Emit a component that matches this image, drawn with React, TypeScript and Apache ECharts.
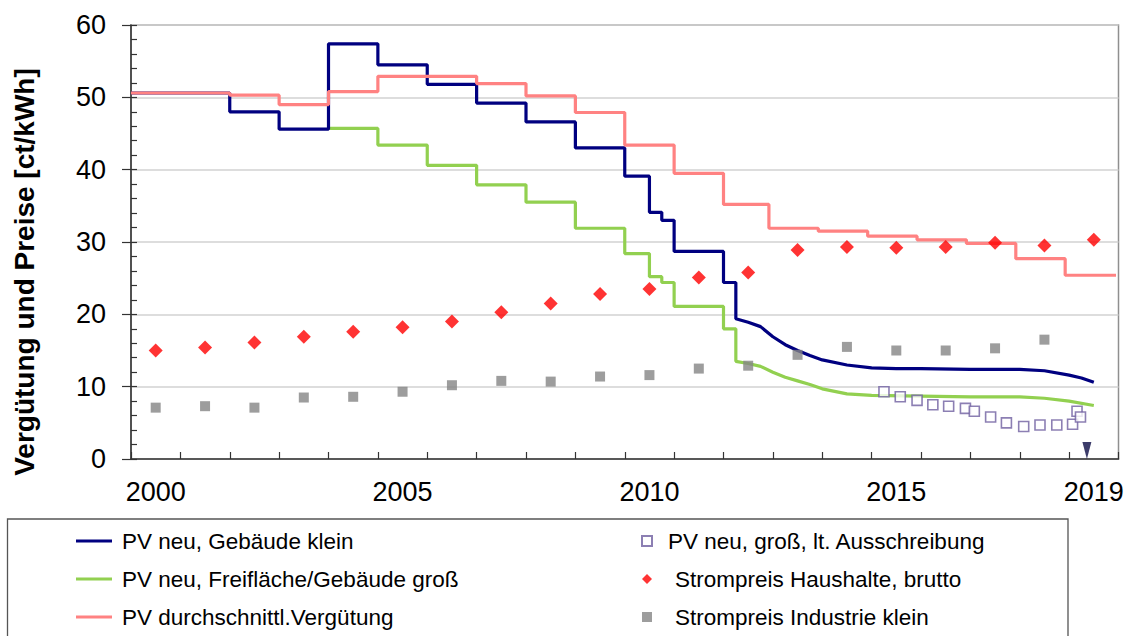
import React, { useEffect, useRef } from 'react';
import * as echarts from 'echarts';

const categoryYears = ['2000','2001','2002','2003','2004','2005','2006','2007','2008','2009','2010','2011','2012','2013','2014','2015','2016','2017','2018','2019'];
const labeledYears = ['2000', '2005', '2010', '2015', '2019'];

// step functions: [start year, value]
const blueSteps = [[2000, 50.6],[2002, 48.0],[2003, 45.6],[2004, 57.4],[2005, 54.5],[2006, 51.8],[2007, 49.2],[2008, 46.6],[2009, 43.0],[2010, 39.1],[2010.5, 34.1],[2010.75, 33.0],[2011, 28.7],[2012, 24.4],[2012.25, 19.4]];
const blueTail = [[2012.5, 18.9],[2012.75, 18.3],[2013.0, 16.9],[2013.25, 15.8],[2013.5, 15.0],[2013.75, 14.3],[2014.0, 13.7],[2014.5, 13.0],[2015.0, 12.6],[2015.5, 12.5],[2016.0, 12.5],[2017.0, 12.4],[2018.0, 12.4],[2018.5, 12.2],[2019.0, 11.6],[2019.25, 11.2],[2019.5, 10.6]];

const greenSteps = [[2004, 45.7],[2005, 43.4],[2006, 40.6],[2007, 37.9],[2008, 35.5],[2009, 31.9],[2010, 28.4],[2010.5, 25.2],[2010.75, 24.4],[2011, 21.1],[2012, 18.0],[2012.25, 13.5]];
const greenTail = [[2012.5, 13.2],[2012.75, 12.8],[2013.0, 12.0],[2013.25, 11.3],[2013.5, 10.8],[2013.75, 10.3],[2014.0, 9.7],[2014.5, 9.0],[2015.0, 8.8],[2016.0, 8.7],[2017.0, 8.6],[2018.0, 8.6],[2018.5, 8.4],[2019.0, 8.0],[2019.5, 7.4]];

const pinkSteps = [[2000, 50.6],[2002, 50.3],[2003, 49.0],[2004, 50.8],[2005, 52.9],[2007, 51.9],[2008, 50.2],[2009, 47.9],[2010, 43.4],[2011, 39.5],[2012, 35.2],[2012.92, 31.9],[2013.92, 31.5],[2014.92, 30.8],[2015.92, 30.3],[2016.92, 29.8],[2017.92, 27.7],[2018.92, 25.4]];
const pinkEnd = 2019.95;

const householdPrice = [15.0, 15.4, 16.1, 16.9, 17.6, 18.2, 19.0, 20.3, 21.5, 22.8, 23.5, 25.1, 25.8, 28.9, 29.3, 29.2, 29.3, 29.9, 29.5, 30.3];
const industryPrice = [7.1, 7.3, 7.1, 8.5, 8.6, 9.3, 10.2, 10.8, 10.7, 11.4, 11.6, 12.5, 12.9, 14.4, 15.5, 15.0, 15.0, 15.3, 16.5, null];

const tenderDates = [2015.25, 2015.58, 2015.92, 2016.24, 2016.56, 2016.9, 2017.08, 2017.41, 2017.73, 2018.08, 2018.41, 2018.75, 2019.07, 2019.16, 2019.23];
const tenderValues = [9.3, 8.6, 8.1, 7.5, 7.3, 7.0, 6.6, 5.8, 5.0, 4.5, 4.7, 4.7, 4.8, 6.6, 5.8];

const markerPoint = [[2019.36, 1.17]];

const NAMES = {
  blue: 'PV neu, Gebäude klein',
  green: 'PV neu, Freifläche/Gebäude groß',
  pink: 'PV durchschnittl.Vergütung',
  tender: 'PV neu, groß, lt. Ausschreibung',
  house: 'Strompreis Haushalte, brutto',
  ind: 'Strompreis Industrie klein',
};

function buildSteps(steps: number[][], tail: number[][] | null, end?: number) {
  const pts: number[][] = [];
  for (let i = 0; i < steps.length; i++) {
    pts.push([steps[i][0], steps[i][1]]);
    if (i + 1 < steps.length) pts.push([steps[i + 1][0], steps[i][1]]);
  }
  if (tail) tail.forEach((p) => pts.push([p[0], p[1]]));
  if (end !== undefined) pts.push([end, steps[steps.length - 1][1]]);
  return pts;
}

const FONT = 'Liberation Sans, Arial, sans-serif';

export default function App() {
  const ref = useRef<HTMLDivElement>(null);
  useEffect(() => {
    const chart = echarts.init(ref.current!, null, { renderer: 'svg' });
    const centerOf = (i: number) => Number(categoryYears[i]) + 0.5;
    const option: any = {
      animation: false,
      backgroundColor: '#ffffff',
      textStyle: { fontFamily: FONT },
      grid: {
        left: 131, right: 12.5, top: 25, bottom: 177,
        show: true, borderColor: '#8f8f8f', borderWidth: 1.5,
      },
      xAxis: [
        {
          type: 'value', min: 2000, max: 2020, interval: 1, position: 'bottom',
          axisLine: { show: true, lineStyle: { color: '#333', width: 1.5 } },
          axisTick: { show: true, inside: true, length: 7, lineStyle: { color: '#333', width: 1.2 } },
          axisLabel: { show: false },
          splitLine: { show: false },
        },
        {
          type: 'category', data: categoryYears, boundaryGap: true, position: 'bottom',
          axisLine: { show: false }, axisTick: { show: false }, splitLine: { show: false },
          axisLabel: {
            interval: (_i: number, v: string) => labeledYears.includes(v),
            fontSize: 27, color: '#000', margin: 19, fontFamily: FONT,
          },
        },
      ],
      yAxis: [
        {
          type: 'value', min: 0, max: 60, interval: 10, position: 'left',
          axisLine: { show: true, lineStyle: { color: '#333', width: 1.5 } },
          axisTick: { show: true, inside: false, length: 9, lineStyle: { color: '#333', width: 1.2 } },
          axisLabel: { fontSize: 27, color: '#000', margin: 25, fontFamily: FONT },
          splitLine: { show: true, lineStyle: { color: '#d2d2d2', width: 1.5 } },
        },
        {
          type: 'value', min: 0, max: 60, interval: 2, position: 'left',
          axisLine: { show: false },
          axisTick: { show: true, inside: true, length: 6, lineStyle: { color: '#333', width: 1.2 } },
          axisLabel: { show: false },
          splitLine: { show: false },
        },
      ],
      legend: [
        {
          data: [NAMES.blue, NAMES.green, NAMES.pink],
          orient: 'vertical', left: 76, top: 529, height: 106, padding: 0,
          icon: 'rect', itemWidth: 36, itemHeight: 3, itemGap: 14,
          selectedMode: false,
          textStyle: { fontSize: 22.5, color: '#000', lineHeight: 24, fontFamily: FONT, padding: [0, 0, 0, 5] },
        },
        {
          data: [NAMES.tender, NAMES.house, NAMES.ind],
          orient: 'vertical', left: 641, top: 529, height: 106, padding: 0,
          itemWidth: 10, itemHeight: 10, itemGap: 14,
          selectedMode: false,
          formatter: (name: string) => (name === NAMES.tender ? '{a|' + name + '}' : '{b|' + name + '}'),
          textStyle: {
            fontSize: 22.5, color: '#000', lineHeight: 24, fontFamily: FONT,
            rich: {
              a: { fontSize: 22.5, lineHeight: 24, fontFamily: FONT, color: '#000', padding: [0, 0, 0, 11] },
              b: { fontSize: 22.5, lineHeight: 24, fontFamily: FONT, color: '#000', padding: [0, 0, 0, 18] },
            },
          },
        },
      ],
      graphic: [
        {
          type: 'rect', shape: { x: 7.5, y: 519, width: 1060.5, height: 140 },
          style: { fill: 'none', stroke: '#555', lineWidth: 1.3 }, silent: true,
        },
        {
          type: 'text', x: 24, y: 272, rotation: Math.PI / 2,
          style: {
            text: 'Vergütung und Preise [ct/kWh]', font: 'bold 28px ' + FONT, fill: '#000',
            align: 'center', verticalAlign: 'middle',
          },
        },
      ],
      series: [
        {
          name: NAMES.green, type: 'line', data: buildSteps(greenSteps, greenTail), symbol: 'none', smooth: false,
          lineStyle: { color: '#92d050', width: 3.2 }, itemStyle: { color: '#92d050' }, z: 2,
        },
        {
          name: NAMES.blue, type: 'line', data: buildSteps(blueSteps, blueTail), symbol: 'none', smooth: false,
          lineStyle: { color: '#000080', width: 3.2 }, itemStyle: { color: '#000080' }, z: 3,
        },
        {
          name: NAMES.pink, type: 'line', data: buildSteps(pinkSteps, null, pinkEnd), symbol: 'none',
          lineStyle: { color: '#ff8282', width: 3.2 }, itemStyle: { color: '#ff8282' }, z: 4,
        },
        {
          name: NAMES.tender, type: 'scatter', symbol: 'rect', symbolSize: 10,
          data: tenderDates.map((d, i) => [d, tenderValues[i]]),
          itemStyle: { color: '#ffffff', borderColor: '#6f5fa0', borderWidth: 1.6 }, z: 6,
        },
        {
          name: NAMES.house, type: 'scatter', symbol: 'diamond', symbolSize: 14,
          data: householdPrice.map((v, i) => [centerOf(i), v]),
          itemStyle: { color: '#ff0000' }, z: 6,
        },
        {
          name: NAMES.ind, type: 'scatter', symbol: 'rect', symbolSize: 10,
          data: industryPrice.map((v, i) => (v === null ? null : [centerOf(i), v])).filter((p) => p !== null),
          itemStyle: { color: '#858585' }, z: 6,
        },
        {
          name: 'marker', type: 'scatter', symbol: 'triangle', symbolRotate: 180, symbolSize: [9, 17],
          data: markerPoint, itemStyle: { color: '#0b0b45' }, z: 7,
        },
      ],
    };
    chart.setOption(option);
    return () => chart.dispose();
  }, []);
  return <div ref={ref} style={{ position: 'fixed', left: 0, top: 0, width: 1131, height: 636, background: '#fff' }} />;
}
